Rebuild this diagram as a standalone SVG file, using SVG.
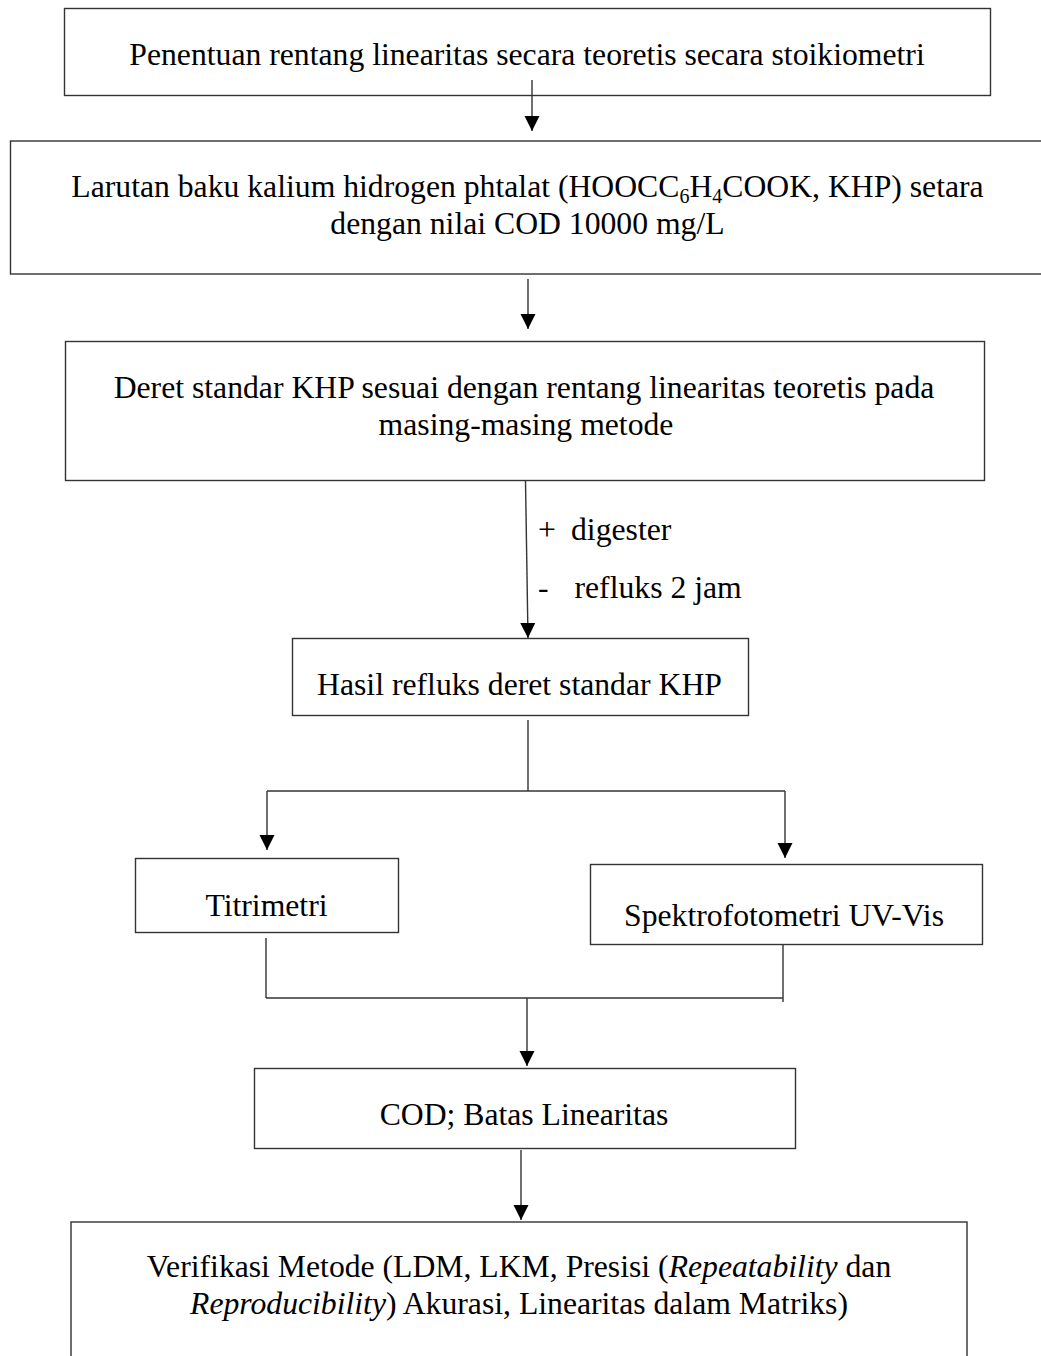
<svg xmlns="http://www.w3.org/2000/svg" width="1041" height="1356" viewBox="0 0 1041 1356">
<style>
.box{fill:#fff;stroke:#333;stroke-width:1.4}
.t{font-family:"Liberation Serif","Times New Roman",serif;font-size:31.7px;fill:#000}
.c{text-anchor:middle}
.ln{fill:none;stroke:#333;stroke-width:1.4}
.sub{font-size:20px}
</style>
<defs>
<marker id="ah" markerUnits="userSpaceOnUse" markerWidth="16" markerHeight="16" viewBox="0 0 16 16" refX="15" refY="8" orient="auto">
<path d="M0,0.5 L15,8 L0,15.5 Z" fill="#000"/>
</marker>
</defs>
<rect width="1041" height="1356" fill="#fff"/>
<g id="n1">
<rect class="box" x="64.5" y="8.5" width="926" height="87"/>
<text class="t c" x="527" y="65">Penentuan rentang linearitas secara teoretis secara stoikiometri</text>
</g>
<g id="n2">
<rect class="box" x="10.5" y="141" width="1040" height="133"/>
<text class="t c" x="527.5" y="197">Larutan baku kalium hidrogen phtalat (HOOCC<tspan class="sub" dy="6">6</tspan><tspan dy="-6">H</tspan><tspan class="sub" dy="6">4</tspan><tspan dy="-6">COOK, KHP) setara</tspan></text>
<text class="t c" x="527.5" y="234">dengan nilai COD 10000 mg/L</text>
</g>
<g id="n3">
<rect class="box" x="65.5" y="341.5" width="919" height="139"/>
<text class="t c" x="524" y="398">Deret standar KHP sesuai dengan rentang linearitas teoretis pada</text>
<text class="t c" x="526" y="435">masing-masing metode</text>
</g>
<g id="n4">
<rect class="box" x="292.5" y="638.5" width="456" height="77"/>
<text class="t c" x="519.5" y="695">Hasil refluks deret standar KHP</text>
</g>
<g id="n5">
<rect class="box" x="135.5" y="858.5" width="263" height="74"/>
<text class="t c" x="266.5" y="916">Titrimetri</text>
</g>
<g id="n6">
<rect class="box" x="590.5" y="864.5" width="392" height="80"/>
<text class="t c" x="784" y="926">Spektrofotometri UV-Vis</text>
</g>
<g id="n7">
<rect class="box" x="254.5" y="1068.5" width="541" height="80"/>
<text class="t c" x="524" y="1125">COD; Batas Linearitas</text>
</g>
<g id="n8">
<rect class="box" x="71" y="1222" width="896" height="150"/>
<text class="t c" x="519" y="1277">Verifikasi Metode (LDM, LKM, Presisi (<tspan font-style="italic">Repeatability</tspan> dan</text>
<text class="t c" x="519" y="1314"><tspan font-style="italic">Reproducibility</tspan>) Akurasi, Linearitas dalam Matriks)</text>
</g>
<g id="connectors">
<line class="ln" x1="532" y1="80" x2="532" y2="131" marker-end="url(#ah)"/>
<line class="ln" x1="528" y1="279" x2="528" y2="329" marker-end="url(#ah)"/>
<line class="ln" x1="525.5" y1="481" x2="528" y2="638" marker-end="url(#ah)"/>
<line class="ln" x1="528" y1="720" x2="528" y2="791"/>
<line class="ln" x1="267" y1="791" x2="785" y2="791"/>
<line class="ln" x1="267" y1="791" x2="267" y2="850" marker-end="url(#ah)"/>
<line class="ln" x1="785" y1="791" x2="785" y2="858" marker-end="url(#ah)"/>
<line class="ln" x1="266" y1="938" x2="266" y2="998"/>
<line class="ln" x1="783" y1="945" x2="783" y2="1002"/>
<line class="ln" x1="266" y1="998" x2="783" y2="998"/>
<line class="ln" x1="527" y1="998" x2="527" y2="1066" marker-end="url(#ah)"/>
<line class="ln" x1="521" y1="1150" x2="521" y2="1220" marker-end="url(#ah)"/>
<text class="t" x="538" y="540">+</text>
<text class="t" x="571" y="540">digester</text>
<text class="t" x="538" y="598">-</text>
<text class="t" x="574.5" y="598">refluks 2 jam</text>
</g>
</svg>
